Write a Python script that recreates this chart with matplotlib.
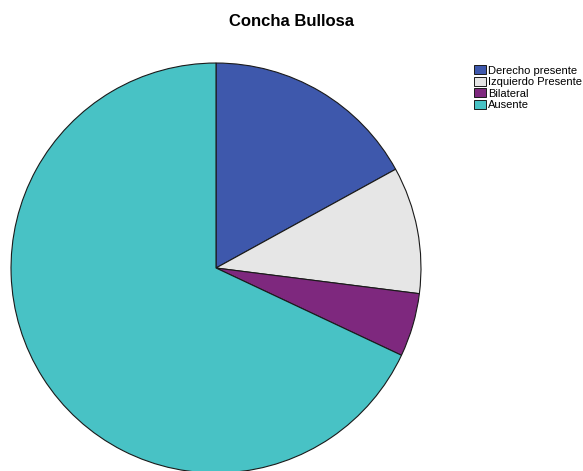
import matplotlib
matplotlib.use("Agg")
import matplotlib.pyplot as plt
from matplotlib.patches import Patch

plt.rcParams['font.family'] = ['Liberation Sans', 'DejaVu Sans']

title = "Concha Bullosa"
categories = ["Derecho presente", "Izquierdo Presente", "Bilateral", "Ausente"]
values = [17, 10, 5, 68]
colors = ["#3E58AC", "#E6E6E6", "#7E287E", "#48C2C5"]

W, H = 583, 471
fig = plt.figure(figsize=(W / 100, H / 100), dpi=100)
cx, cy, r = 216, 268, 206
ax = fig.add_axes([(cx - r) / W, (H - cy - r) / H, 2 * r / W, 2 * r / H])
ax.pie(values, colors=colors, startangle=90, counterclock=False, radius=1,
       wedgeprops=dict(edgecolor="#1a1a1a", linewidth=0.8))
ax.set_xlim(-1.005, 1.005)
ax.set_ylim(-1.005, 1.005)
ax.set_aspect('auto')
ax.axis('off')

fig.text(0.5, 1 - 26 / H, title, ha='center', va='baseline', fontsize=12,
         fontweight='bold')

handles = [Patch(facecolor=c, edgecolor="#1a1a1a", linewidth=0.7) for c in colors]
fig.legend(handles, categories, loc='upper left',
           bbox_to_anchor=(474 / W, 1 - 65 / H), frameon=False, fontsize=8,
           handlelength=1.08, handleheight=0.92, handletextpad=0.18,
           labelspacing=0.09, borderpad=0, borderaxespad=0)

fig.savefig("out.png", dpi=100)
